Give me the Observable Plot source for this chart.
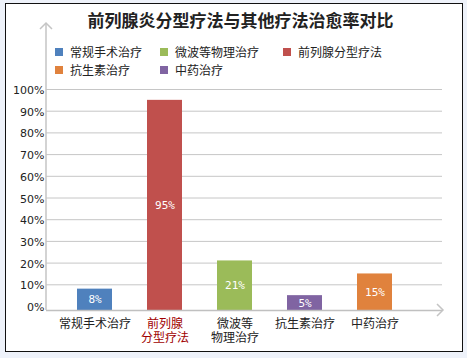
<!DOCTYPE html>
<html>
<head>
<meta charset="utf-8">
<script src="https://cdn.jsdelivr.net/npm/d3@7"></script>
<script src="https://cdn.jsdelivr.net/npm/@observablehq/plot@0.6"></script>
<style>
  html, body { margin: 0; padding: 0; }
  body { width: 467px; height: 358px; background: #eef2fa; position: relative; overflow: hidden;
         font-family: "Noto Sans CJK SC", "Noto Sans", sans-serif; }
  #box { position: absolute; left: 5px; top: 3px; width: 456px; height: 347px; border: 1.5px solid #111; background: #fff; }
  #chart { position: absolute; left: 0; top: 0; }
  #title { position: absolute; left: 0; width: 481px; top: 8px; text-align: center; font-size: 17px; font-weight: bold; color: #222; line-height: 24px; }
  .lg { position: absolute; font-size: 12px; color: #222; line-height: 14px; white-space: nowrap; }
  .lg span { display: inline-block; width: 8px; height: 8px; margin-right: 7px; vertical-align: 1px; }
</style>
</head>
<body>
<div id="box"></div>
<div id="chart"></div>
<div id="title"></div>
<div id="legend"></div>
<script>
const title = "前列腺炎分型疗法与其他疗法治愈率对比";
const categories = ["常规手术治疗", "前列腺分型疗法", "微波等物理治疗", "抗生素治疗", "中药治疗"];
const tickLabels = ["常规手术治疗", "前列腺\n分型疗法", "微波等\n物理治疗", "抗生素治疗", "中药治疗"];
const values = [8, 95, 21, 5, 15];
const colors = ["#4f81bd", "#c0504d", "#9bbb59", "#8064a2", "#e0823d"];
const yTicks = [0, 10, 20, 30, 40, 50, 60, 70, 80, 90, 100];
const labelColors = ["#222", "#a00000", "#222", "#222", "#222"];
// legend as drawn in the reference (its order and swatch colours)
const legendNames = ["常规手术治疗", "微波等物理治疗", "前列腺分型疗法", "抗生素治疗", "中药治疗"];
const legendColors = ["#4f81bd", "#9bbb59", "#c0504d", "#e0823d", "#8064a2"];

document.getElementById("title").textContent = title;

const legendPos = [[55, 45], [160, 45], [283, 45], [55, 63], [160, 63]];
const lg = document.getElementById("legend");
legendNames.forEach((name, i) => {
  const d = document.createElement("div");
  d.className = "lg";
  d.style.left = legendPos[i][0] + "px";
  d.style.top = legendPos[i][1] + "px";
  d.innerHTML = `<span style="background:${legendColors[i]}"></span>${name}`;
  lg.appendChild(d);
});

const data = categories.map((c, i) => ({cat: c, value: values[i], color: colors[i], tick: tickLabels[i], lc: labelColors[i]}));

const W = 467, H = 358, mL = 46, mR = 25, mT = 89, mB = 52;
const plot = Plot.plot({
  width: W, height: H,
  marginLeft: mL, marginRight: mR, marginTop: mT, marginBottom: mB,
  style: {background: "transparent", fontFamily: "'Noto Sans CJK SC', sans-serif", overflow: "visible"},
  x: {domain: categories, range: [75, 393], paddingInner: 0.505, paddingOuter: 0, axis: null},
  y: {domain: [0, 100], axis: null},
  marks: [
    Plot.ruleY(yTicks.slice(1), {stroke: "#c6c6c6", strokeWidth: 1}),
    Plot.barY(data, {x: "cat", y: "value", fill: "color", insetBottom: -4}),
    Plot.ruleY([0], {stroke: "#c0c0c0", strokeWidth: 1.5, dy: 4}),
    Plot.text(yTicks, {x: null, y: d => d, frameAnchor: "left", text: d => d + "%", textAnchor: "end", dx: -2, dy: 1, fontSize: 11, fill: "#222", fontFamily: "'DejaVu Sans', sans-serif"}),
    Plot.text(data, {x: "cat", y: d => d.value / 2, text: d => d.value + "%", fill: "white", fontSize: 11, dy: 2, fontFamily: "'DejaVu Sans Mono', monospace"}),
    Plot.text(data, {x: "cat", frameAnchor: "bottom", text: "tick", fill: "lc", lineAnchor: "top", dy: 11, fontSize: 12, lineHeight: 1.2})
  ]
});
document.getElementById("chart").appendChild(plot);

// axis lines with arrows, placed from the plot's scales
const ys = plot.scale("y");
const y0 = ys.range[0] + 4;
const svg = d3.select(plot);
const g = svg.append("g").attr("stroke", "#c4c4c4").attr("fill", "none").attr("stroke-width", 1.5);
const xr = W - mR + 1;
const yTop = mT - 66;
g.append("line").attr("x1", mL).attr("x2", mL).attr("y1", y0).attr("y2", yTop);
g.append("path").attr("d", `M${mL - 6},${yTop + 6}L${mL},${yTop}L${mL + 6},${yTop + 6}`);
g.append("path").attr("d", `M${xr - 6},${y0 - 6}L${xr},${y0}L${xr - 6},${y0 + 6}`);
</script>
</body>
</html>
